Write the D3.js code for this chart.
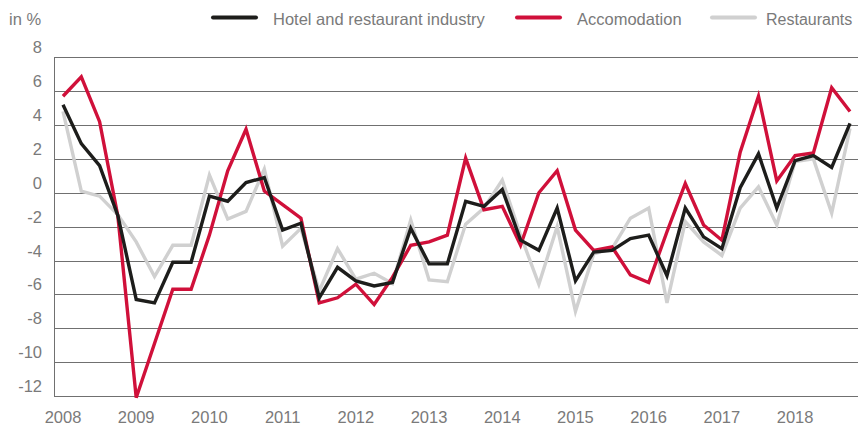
<!DOCTYPE html>
<html>
<head>
<meta charset="utf-8">
<script src="https://cdn.jsdelivr.net/npm/d3@7/dist/d3.min.js"></script>
<style>
  html, body { margin: 0; padding: 0; background: #fff; }
  svg { display: block; font-family: "Liberation Sans", Arial, sans-serif; }
</style>
</head>
<body>
<svg id="chart" width="858" height="427"></svg>
<script>
// Quarterly periods 2008 Q1 .. 2018 Q4
const years = [2008, 2009, 2010, 2011, 2012, 2013, 2014, 2015, 2016, 2017, 2018];
const quarters = [];
years.forEach(y => [0, 1, 2, 3].forEach(q => quarters.push(y + q / 4)));

const hotelRestaurant = [5.2, 2.9, 1.6, -1.35, -6.3, -6.5, -4.1, -4.1,
  -0.2, -0.5, 0.6, 0.9, -2.2, -1.8, -6.2, -4.4,
  -5.2, -5.5, -5.3, -2.1, -4.2, -4.2, -0.5, -0.8,
  0.2, -2.8, -3.4, -0.9, -5.2, -3.5, -3.4, -2.7,
  -2.5, -4.9, -0.9, -2.6, -3.3, 0.3, 2.3, -0.9,
  1.9, 2.2, 1.5, 4.1];
const accomodation = [5.7, 6.85, 4.2, -1.4, -12.1, -8.9, -5.7, -5.7,
  -2.5, 1.3, 3.75, 0.1, -0.7, -1.5, -6.5, -6.2,
  -5.4, -6.6, -5.0, -3.1, -2.9, -2.5, 2.05, -1.0,
  -0.8, -3.1, 0.0, 1.3, -2.2, -3.4, -3.2, -4.85,
  -5.3, -2.3, 0.55, -1.9, -2.8, 2.4, 5.7, 0.7,
  2.2, 2.35, 6.2, 4.8];
const restaurants = [4.8, 0.1, -0.2, -1.3, -2.9, -4.95, -3.1, -3.1,
  1.05, -1.55, -1.1, 1.4, -3.15, -2.1, -5.8, -3.3,
  -5.1, -4.75, -5.35, -1.6, -5.15, -5.25, -1.85, -0.9,
  0.75, -2.5, -5.4, -2.0, -7.0, -3.6, -3.3, -1.5,
  -0.9, -6.5, -1.7, -2.9, -3.7, -0.9, 0.35, -1.9,
  1.85, 2.0, -1.2, 3.8];

const yTicks = [8, 6, 4, 2, 0, -2, -4, -6, -8, -10, -12];
const seriesNames = ["Hotel and restaurant industry", "Accomodation", "Restaurants"];
const seriesColors = ["#1d1d1b", "#d0103a", "#d0d0d0"];

const svg = d3.select("#chart");
const plotLeft = 54, plotRight = 858, plotTop = 57.3, plotBottom = 396;
const fontSize = 16.5, textColor = "#7a7a7a";

const x = d3.scaleLinear().domain([2008, 2018.75]).range([63, 850]);
const y = d3.scaleLinear().domain([-12, 8]).range([plotBottom, plotTop]);

// gridlines
svg.append("g").selectAll("line").data(yTicks).join("line")
  .attr("x1", plotLeft).attr("x2", plotRight)
  .attr("y1", d => Math.round(y(d)) + 0.5).attr("y2", d => Math.round(y(d)) + 0.5)
  .attr("stroke", "#707070").attr("stroke-width", 1);

// left axis line
svg.append("line")
  .attr("x1", plotLeft + 0.5).attr("x2", plotLeft + 0.5)
  .attr("y1", Math.round(y(8)) + 0.5).attr("y2", Math.round(y(-12)) + 0.5)
  .attr("stroke", "#707070").attr("stroke-width", 1);

// y tick labels (sit above gridline)
svg.append("g").selectAll("text").data(yTicks).join("text")
  .attr("x", 42).attr("y", d => y(d) - 4)
  .attr("text-anchor", "end")
  .attr("font-size", fontSize).attr("fill", textColor)
  .text(d => String(d));

svg.append("text").attr("x", 9).attr("y", 25)
  .attr("font-size", fontSize).attr("fill", textColor).text("in %");

// x labels
svg.append("g").selectAll("text").data(years).join("text")
  .attr("x", d => x(d)).attr("y", 423)
  .attr("text-anchor", "middle")
  .attr("font-size", fontSize).attr("fill", textColor)
  .text(d => String(d));

// lines
const line = d3.line().x((d, i) => x(quarters[i])).y(d => y(d));
const order = [2, 1, 0];
const data = [hotelRestaurant, accomodation, restaurants];
order.forEach(k => {
  svg.append("path").datum(data[k])
    .attr("d", line)
    .attr("fill", "none")
    .attr("stroke", seriesColors[k])
    .attr("stroke-width", 3.4)
    .attr("stroke-linejoin", "miter")
    .attr("stroke-linecap", "butt");
});

// legend
const legendX = [213, 517, 712];
const legendTextX = [273, 577, 766];
const lg = svg.append("g");
seriesNames.forEach((name, k) => {
  lg.append("line")
    .attr("x1", legendX[k]).attr("x2", legendX[k] + 43)
    .attr("y1", 17.5).attr("y2", 17.5)
    .attr("stroke", seriesColors[k]).attr("stroke-width", 4)
    .attr("stroke-linecap", "round");
  lg.append("text")
    .attr("x", legendTextX[k]).attr("y", 25)
    .attr("font-size", k === 2 ? 16 : fontSize).attr("fill", textColor)
    .text(name);
});
</script>
</body>
</html>
